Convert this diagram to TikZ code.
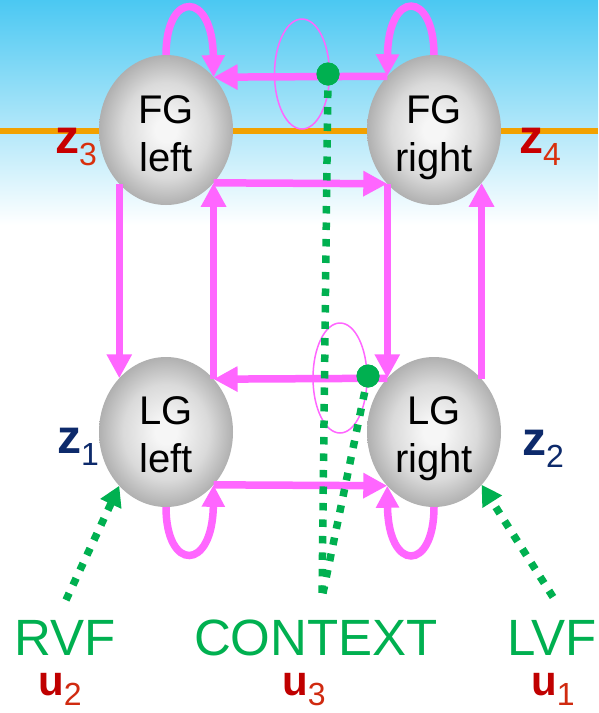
\documentclass[tikz,border=0pt]{standalone}
\usepackage{fontspec}
\setmainfont{Liberation Sans}
\usetikzlibrary{arrows.meta,shapes.geometric}
\definecolor{mag}{HTML}{FF66FF}
\definecolor{grn}{HTML}{00B050}
\definecolor{org}{HTML}{F2A100}
\definecolor{sky}{HTML}{4BC8F2}
\definecolor{zred}{HTML}{C80000}
\definecolor{zsub}{HTML}{D8300E}
\definecolor{znavy}{HTML}{0D2A6B}
\definecolor{ured}{HTML}{C00000}
\definecolor{usub}{HTML}{D02A10}
\definecolor{sphhi}{HTML}{F6F6F6}
\definecolor{sphmid}{HTML}{DADADA}
\definecolor{sphlo}{HTML}{B0B0B0}
\pgfdeclareradialshading{spherefill}{\pgfpoint{0bp}{0bp}}{color(0bp)=(sphhi); color(4bp)=(sphhi); color(16bp)=(sphmid); color(25bp)=(sphlo); color(50bp)=(sphlo)}
\newcommand{\varlab}[6]{\textcolor{#1}{\bfseries\fontsize{#5}{#5}\selectfont #3}\raisebox{-#6}{\textcolor{#2}{\fontsize{32}{32}\selectfont #4}}}
\tikzset{
  sphere/.style={ellipse, minimum width=134pt, minimum height=150pt, inner sep=0pt, outer sep=0pt, shading=spherefill},
  spheretext/.style={anchor=base, align=center, inner sep=0pt, font=\fontsize{40}{48}\selectfont},
  link/.style={draw=mag, line width=7.5pt, -{Triangle[length=24pt,width=24pt]}},
  selfloop/.style={draw=mag, line width=7.5pt, -{Triangle[length=22pt,width=22pt]}},
  ring/.style={draw=mag, line width=1.5pt},
  gdots/.style={draw=grn, line width=7.5pt, dash pattern=on 7.5pt off 9pt},
  garrow/.style={gdots, -{Triangle[length=20pt,width=22pt]}},
  gdot/.style={circle, fill=grn, minimum size=23pt, inner sep=0pt},
  inlab/.style={anchor=base, inner sep=0pt, text=grn, font=\fontsize{51}{51}\selectfont},
  varnode/.style={anchor=base west, inner sep=0pt}
}
\begin{document}
\begin{tikzpicture}[x=1pt,y=-1pt]
\useasboundingbox (0,0) rectangle (598,713);
\fill[white] (0,0) rectangle (598,713);
\shade[top color=sky, bottom color=white] (0,0) rectangle (598,225);
\draw[org, line width=6pt] (0,131) -- (598,131);

% spheres
\node[sphere] (FGL) at (166,130) {};
\node[sphere] (FGR) at (434,130) {};
\node[sphere] (LGL) at (166,432) {};
\node[sphere] (LGR) at (434,432) {};
\node[spheretext] (FGLt) at (166,171) {FG\\left};
\node[spheretext] (FGRt) at (434,171) {FG\\right};
\node[spheretext] (LGLt) at (166,472) {LG\\left};
\node[spheretext] (LGRt) at (434,472) {LG\\right};

% connections
\draw[link] (FGR.131.5) -- (FGL.48.5);
\draw[link] (FGL.-48.5) -- (FGR.-131.5);
\draw[link] (FGL.-131.5) -- (LGL.131.5);
\draw[link] (LGL.48.5) -- (FGL.-48.5);
\draw[link] (FGR.-131.5) -- (LGR.131.5);
\draw[link] (LGR.48.5) -- (FGR.-48.5);
\draw[link] (LGR.131.5) -- (LGL.48.5);
\draw[link] (LGL.-48.5) -- (LGR.-131.5);

% self loops
\draw[selfloop] (FGL.north) .. controls +(0,-65) and +(-1,-87) .. (FGL.48.5);
\draw[selfloop] (FGR.north) .. controls +(0,-65) and +(1,-87) .. (FGR.131.5);
\draw[selfloop] (LGL.south) .. controls +(0,65) and +(-1,87) .. (LGL.-48.5);
\draw[selfloop] (LGR.south) .. controls +(0,65) and +(1,87) .. (LGR.-131.5);

% rings
\draw[ring] (302,74) ellipse [x radius=27.5, y radius=55];
\draw[ring] (340,378) ellipse [x radius=27, y radius=55];

% context lines
\coordinate (ctxend) at (322,598);
\coordinate (rvfstart) at (66,600);
\coordinate (lvfstart) at (553,597);
\node[gdot] (d1) at (328,74) {};
\node[gdot] (d2) at (368,376) {};
\draw[gdots] (d1.center) -- (ctxend);
\draw[gdots] (d2.center) -- (ctxend);
\node[gdot] at (d1) {};
\node[gdot] at (d2) {};
\draw[garrow] (rvfstart) -- (LGL.-131.5);
\draw[garrow] (lvfstart) -- (LGR.-48.5);

% labels
\node[varnode] (z3) at (55,153) {\varlab{zred}{zsub}{z}{3}{48}{12pt}};
\node[varnode] (z4) at (519,153) {\varlab{zred}{zsub}{z}{4}{48}{12pt}};
\node[varnode] (z1) at (57,453) {\varlab{znavy}{znavy}{z}{1}{48}{12pt}};
\node[varnode] (z2) at (522,455) {\varlab{znavy}{znavy}{z}{2}{48}{12pt}};

\node[inlab] (RVF) at (65,655) {RVF};
\node[inlab] (CTX) at (316,655) {CONTEXT};
\node[inlab] (LVF) at (552,655) {LVF};
\node[varnode] (u2) at (38,695) {\varlab{ured}{usub}{u}{2}{42}{10pt}};
\node[varnode] (u3) at (282,695) {\varlab{ured}{usub}{u}{3}{42}{10pt}};
\node[varnode] (u1) at (531,695) {\varlab{ured}{usub}{u}{1}{42}{10pt}};
\end{tikzpicture}
\end{document}
